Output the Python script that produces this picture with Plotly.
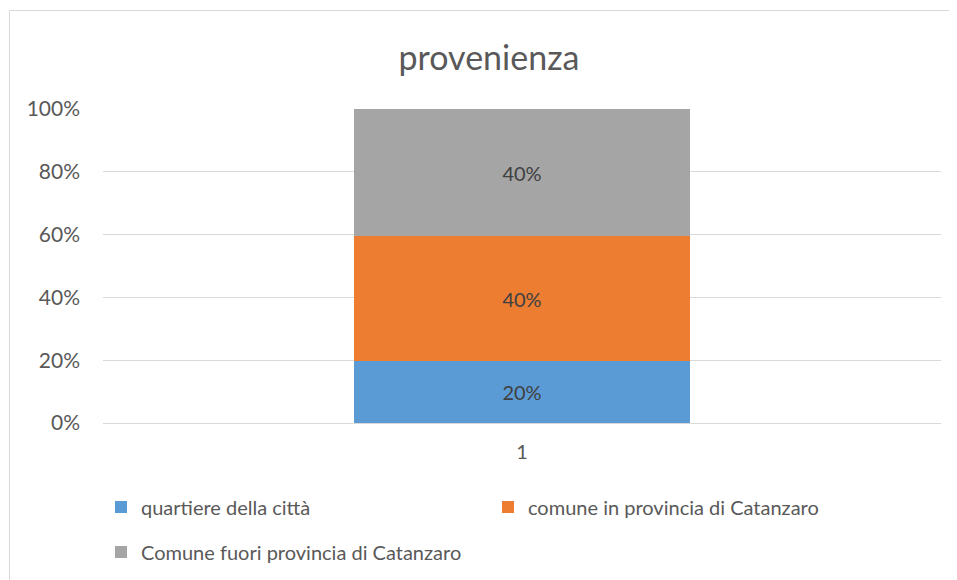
import plotly.graph_objects as go

categories = ["1"]
series_names = ["quartiere della città", "comune in provincia di Catanzaro", "Comune fuori provincia di Catanzaro"]
series_values = [[19.6], [40.0], [40.4]]
colors = ["#5B9BD5", "#ED7D31", "#A5A5A5"]
tick_vals = [0, 20, 40, 60, 80, 100]
tick_text = ["0%", "20%", "40%", "60%", "80%", "100%"]

W, H = 957, 580
OFF = 8  # page body margin offset
L, T = 103 - OFF, 109 - OFF
R = W - (941 - OFF)
B = H - (423 - OFF)
pw, ph = W - L - R, H - T - B


def px_x(x):
    return (x - OFF - L) / pw


def px_y(y):
    return (H - B - (y - OFF)) / ph


legend_names = ["legend", "legend", "legend2"]
fig = go.Figure()
for name, vals, c, lg in zip(series_names, series_values, colors, legend_names):
    fig.add_trace(go.Bar(
        x=categories, y=vals, name=name, marker=dict(color=c, line=dict(width=0)),
        width=0.4, legend=lg,
        text=[f"{round(v)}%" for v in vals], textposition="inside", insidetextanchor="middle",
        textfont=dict(color="#404040", size=20, family="Lato"),
    ))

leg_common = dict(orientation="h", xanchor="left", yanchor="middle", traceorder="normal",
                  entrywidth=342, entrywidthmode="pixels", itemwidth=30,
                  font=dict(size=20, color="#595959", family="Lato"), bgcolor="rgba(0,0,0,0)")

fig.update_layout(
    barmode="stack",
    width=W, height=H,
    margin=dict(l=L, r=R, t=T, b=B),
    paper_bgcolor="white", plot_bgcolor="white",
    font=dict(family="Lato", color="#595959", size=20),
    title=dict(text="provenienza", x=px_x(489), xref="paper", xanchor="center",
               y=1 - (58 - OFF) / H, yanchor="middle", yref="container",
               font=dict(size=34, color="#595959", family="Lato")),
    xaxis=dict(type="category", showgrid=False, showline=True, linecolor="#d9d9d9", linewidth=1,
               ticks="", tickfont=dict(size=20, color="#595959"), ticklabelstandoff=11),
    yaxis=dict(range=[0, 100], tickvals=tick_vals, ticktext=tick_text, showgrid=True,
               gridcolor="#d9d9d9", gridwidth=1, zeroline=False, showline=False,
               tickfont=dict(size=21, color="#595959"), ticklabelstandoff=22),
    legend=dict(x=px_x(101), y=px_y(507), **leg_common),
    legend2=dict(x=px_x(101), y=px_y(552), **leg_common),
    showlegend=True,
    bargap=0,
)

fig.add_shape(type="rect", xref="paper", yref="paper",
              x0=px_x(9.5), x1=px_x(W + 30),
              y0=px_y(H + 30), y1=px_y(10.5),
              line=dict(color="#d9d9d9", width=1), fillcolor="rgba(0,0,0,0)", layer="below")

fig.write_html("out.html")
